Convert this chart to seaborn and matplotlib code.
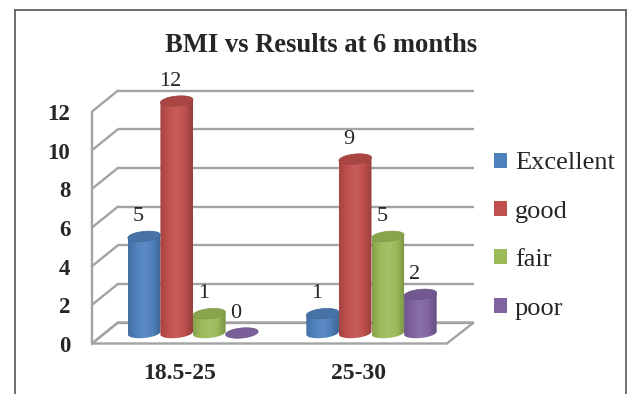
import numpy as np
import pandas as pd
import matplotlib
matplotlib.use("Agg")
import matplotlib.pyplot as plt
import seaborn as sns
from matplotlib.colors import LinearSegmentedColormap, to_rgb
from matplotlib.patches import Polygon, Patch
from matplotlib.lines import Line2D

# ---- data -------------------------------------------------------------
bmi_groups = ["18.5-25", "25-30"]
outcomes = ["Excellent", "good", "fair", "poor"]
excellent = [5, 1]
good = [12, 9]
fair = [1, 5]
poor = [0, 2]
y_ticks = [0, 2, 4, 6, 8, 10, 12]
title = "BMI vs Results at 6 months"

colors = ["#4F81BD", "#C0504D", "#9BBB59", "#8064A2"]

df = pd.DataFrame({
    "BMI": bmi_groups * 4,
    "Result": np.repeat(outcomes, len(bmi_groups)),
    "Count": excellent + good + fair + poor,
})

# ---- figure / axes (axes covers the figure; limits chosen in pixels) --
W, H, DPI = 630, 394, 100
fig = plt.figure(figsize=(W / DPI, H / DPI), dpi=DPI)
sns.set_style("white")
plt.rcParams["font.family"] = ["Liberation Serif", "DejaVu Serif"]

ax = fig.add_axes([0, 0, 1, 1])
PXX, X0PX = 178.5, 193.0      # px per category unit, px of first category
PXY, Y0PX = 19.33, 333.0      # px per value unit, px (from top) of value 0

sns.barplot(data=df, x="BMI", y="Count", hue="Result", order=bmi_groups,
            hue_order=outcomes, palette=colors, width=0.73, dodge=True,
            legend=False, ax=ax)

xlim = (-X0PX / PXX, (W - X0PX) / PXX)
ylim = ((Y0PX - H) / PXY, Y0PX / PXY)

# depth offsets (half-depth of the 3-D box) in data units
DX = 13.0 / PXX
DY = 10.5 / PXY
x_left, x_right = -0.493, 1.50
gcol, glw = "#a3a3a3", 1.7

# floor
floor = Polygon([(x_left - DX, -DY), (x_right - DX - 0.005, -DY),
                 (x_right + DX, DY), (x_left + DX, DY)],
                closed=True, facecolor="white", edgecolor=gcol, lw=glw,
                zorder=1)
ax.add_patch(floor)
# back wall gridlines and side wall diagonals
for v in y_ticks:
    ax.plot([x_left + DX, x_right + DX], [v + DY, v + DY], color=gcol,
            lw=glw, zorder=1, solid_capstyle="butt")
    ax.plot([x_left - DX, x_left + DX], [v - DY, v + DY], color=gcol,
            lw=glw, zorder=1)
ax.plot([x_left - DX, x_left - DX], [y_ticks[0] - DY, y_ticks[-1] - DY],
        color=gcol, lw=glw, zorder=1)

# y tick labels on the front edge
for v in y_ticks:
    ax.text(-0.688, v - DY - 3.0 / PXY, str(v), ha="right", va="center",
            fontsize=16.5, fontweight="bold")

# category labels
for i, g in enumerate(bmi_groups):
    ax.text(i - DX, -2.1, g, ha="center", va="center", fontsize=17,
            fontweight="bold")


def shade(c, f):
    r = np.array(to_rgb(c))
    if f >= 1:
        return tuple(r + (1 - r) * (f - 1))
    return tuple(r * f)


SLOPE = (3.0 / PXY) / (32.6 / PXX)
CAP_B = 5.0 / PXY
t_full = np.linspace(0, 2 * np.pi, 80)
t_low = np.linspace(0, -np.pi, 40)

for container, col in zip(ax.containers, colors):
    cmap = LinearSegmentedColormap.from_list(
        "cyl", [shade(col, 0.86), shade(col, 1.0), shade(col, 1.08),
                shade(col, 1.0), shade(col, 0.78)],
    )
    grad = np.linspace(0, 1, 64)[None, :]
    for bar, val in zip(container.patches, container.datavalues):
        bar.set_visible(False)
        x0, w = bar.get_x(), bar.get_width()
        cx, a = x0 + w / 2, w / 2
        if val > 0:
            # cylinder body: straight sides and a rounded bottom
            top = [(cx - a, val - SLOPE * a), (cx + a, val + SLOPE * a)]
            bot = [(cx + a * np.cos(t), CAP_B * np.sin(t) + SLOPE * a * np.cos(t))
                   for t in t_low]
            body = Polygon(top + bot, closed=True, fill=False, lw=0,
                           transform=ax.transData)
            ax.add_patch(body)
            im = ax.imshow(grad, extent=[cx - a, cx + a, -1, val + 1],
                           aspect="auto", cmap=cmap, zorder=3,
                           interpolation="bilinear")
            im.set_clip_path(body)
            capc = shade(col, 0.88)
        else:
            capc = shade(col, 0.95)
        cap = Polygon([(cx + a * np.cos(t),
                        val + CAP_B * np.sin(t) + SLOPE * a * np.cos(t))
                       for t in t_full], closed=True, facecolor=capc,
                      edgecolor=shade(col, 0.82), lw=0.5, zorder=4)
        ax.add_patch(cap)
        ax.text(cx - 6.0 / PXX, val + 20.0 / PXY, f"{val:g}", ha="center",
                va="center", fontsize=16, zorder=5)

ax.set_xlim(*xlim)
ax.set_ylim(*ylim)
ax.axis("off")

# title
fig.text(321 / W, 1 - 45 / H, title, ha="center", va="center",
         fontsize=19.2, fontweight="bold")

# legend
handles = [Patch(facecolor=c, edgecolor="none") for c in colors]
fig.legend(handles, outcomes, loc="center left",
           bbox_to_anchor=(470 / W, 1 - 236 / H), frameon=False,
           fontsize=19, handlelength=0.5, handleheight=0.5,
           handletextpad=0.3, labelspacing=1.0, borderpad=0.4)

# outer frame
fc = "#555555"
fig.add_artist(Line2D([15 / W, 15 / W], [0, 1 - 10 / H], color=fc, lw=1.2,
                      transform=fig.transFigure))
fig.add_artist(Line2D([15 / W, 626 / W], [1 - 10 / H, 1 - 10 / H], color=fc,
                      lw=1.2, transform=fig.transFigure))
fig.add_artist(Line2D([626 / W, 626 / W], [0, 1 - 10 / H], color=fc, lw=1.2,
                      transform=fig.transFigure))

fig.savefig("out.png", dpi=DPI)
